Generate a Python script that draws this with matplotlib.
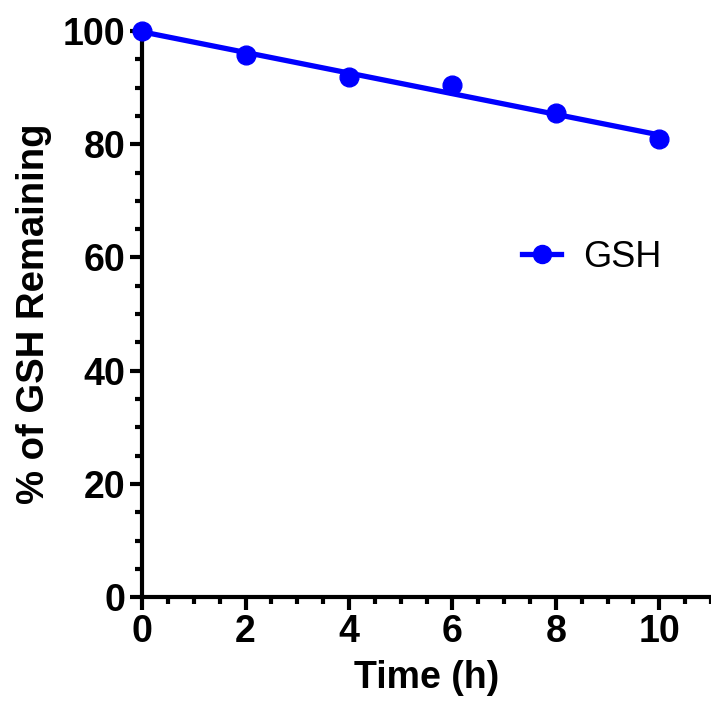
import numpy as np
import matplotlib
matplotlib.use("Agg")
import matplotlib.pyplot as plt
from matplotlib.ticker import MultipleLocator

plt.rcParams['font.family'] = ['Liberation Sans', 'DejaVu Sans']

# data
time_h = [0, 2, 4, 6, 8, 10]
gsh_pct = [100, 95.8, 91.8, 90.4, 85.6, 80.9]
series_name = "GSH"

blue = "#0000ff"

fig = plt.figure(figsize=(7.11, 7.05), dpi=100)
ax = fig.add_axes([0.2, 0.153, 0.8, 0.803])

# linear regression line through the points
slope, icpt = np.polyfit(time_h, gsh_pct, 1)
xfit = np.array([time_h[0], time_h[-1]])
ax.plot(xfit, slope * xfit + icpt, color=blue, lw=3.8, clip_on=False, zorder=3)
ax.plot(time_h, gsh_pct, "o", color=blue, ms=13.5, clip_on=False, zorder=4)

# legend handle: line + marker
ax.plot([], [], "-o", color=blue, lw=3.8, ms=13, label=series_name)
leg = ax.legend(loc="center left", bbox_to_anchor=(0.61, 0.60), frameon=False,
                fontsize=26, handlelength=1.1, handletextpad=0.6)

ax.set_xlim(0, 11)
ax.set_ylim(0, 100)
ax.xaxis.set_major_locator(MultipleLocator(2))
ax.xaxis.set_minor_locator(MultipleLocator(0.5))
ax.yaxis.set_major_locator(MultipleLocator(20))
ax.yaxis.set_minor_locator(MultipleLocator(5))

for s in ["top", "right"]:
    ax.spines[s].set_visible(False)
for s in ["left", "bottom"]:
    ax.spines[s].set_linewidth(3)

ax.tick_params(which="major", length=9, width=3, direction="out", pad=3,
               labelsize=27)
ax.tick_params(which="minor", length=5, width=3, direction="out")
for lab in ax.get_xticklabels() + ax.get_yticklabels():
    lab.set_fontweight("bold")

ax.set_xlabel("Time (h)", fontsize=27, fontweight="bold", labelpad=7)
ax.set_ylabel("% of GSH Remaining", fontsize=27.5, fontweight="bold", labelpad=8)

fig.savefig("out.png", dpi=100)
